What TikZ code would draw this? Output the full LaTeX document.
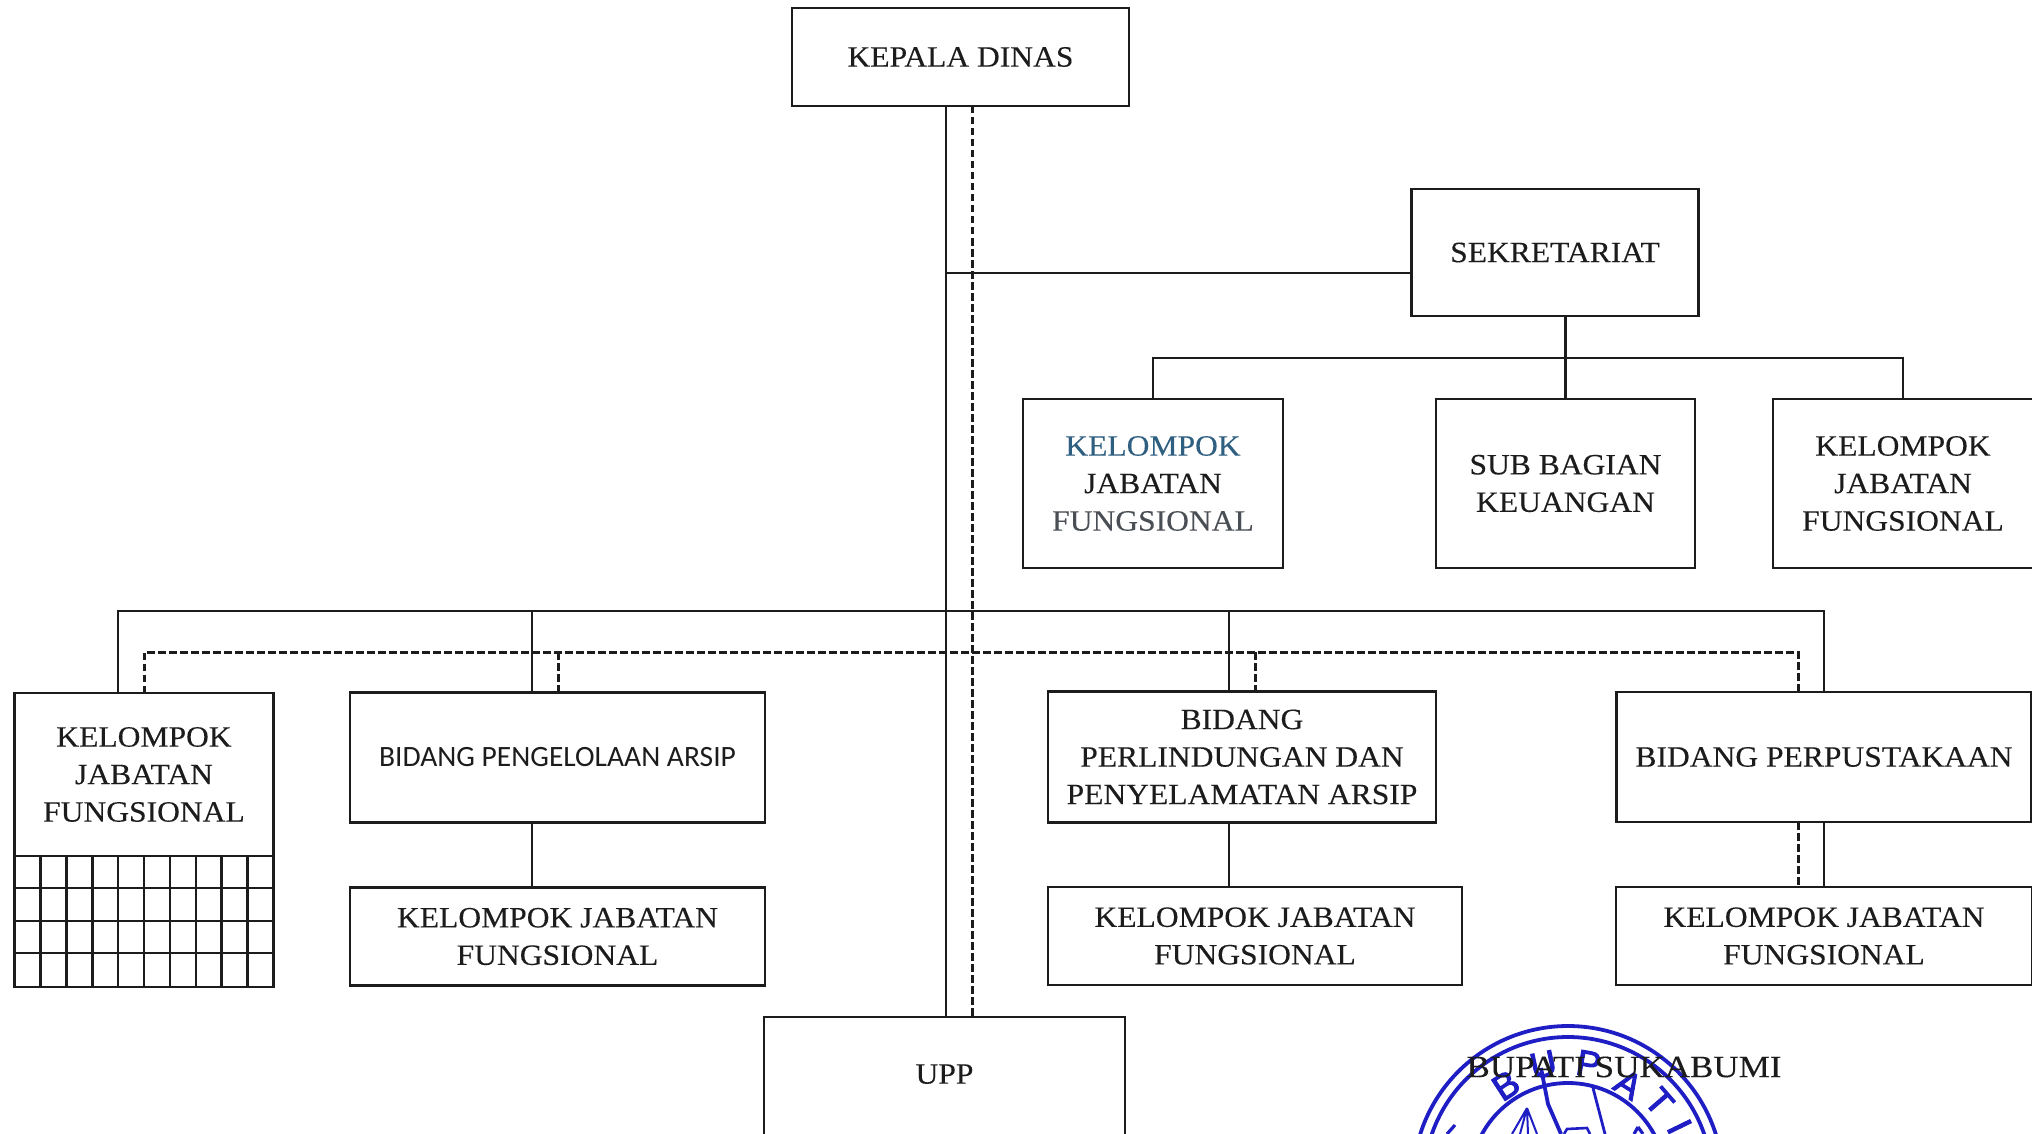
\documentclass[tikz,border=0pt]{standalone}
\usepackage{fontspec}
\usetikzlibrary{calc}
\setmainfont[FakeStretch=1.07,FakeBold=0.25]{Liberation Serif}
\newfontfamily\widefont[FakeStretch=1.13,FakeBold=0.25]{Liberation Serif}
\newfontfamily\calibrish{Carlito}
\newfontfamily\stampfont[FakeBold=3]{Liberation Sans}
\definecolor{ink}{HTML}{1C1C1C}
\definecolor{stamp}{HTML}{1E1EC4}
\tikzset{
  x=1pt,y=-1pt,
  orgbox/.style={draw=ink,line width=2.8pt,rectangle,inner sep=0pt,outer sep=0pt,align=center,text=ink,
    font=\fontsize{29.5}{37.5}\selectfont},
  conn/.style={draw=ink,line width=2.7pt},
  dashconn/.style={draw=ink,line width=3pt,dash pattern=on 7.5pt off 3.5pt},
  gridline/.style={draw=ink,line width=2.6pt},
  stampring/.style={draw=stamp,line width=3.8pt},
  stampletter/.style={text=stamp,inner sep=0pt,font=\stampfont\fontsize{36}{36}\selectfont},
}
\begin{document}
\begin{tikzpicture}
\useasboundingbox (0,0) rectangle (2032,1134);
% stamp
\clip (0,0) rectangle (2032,1134);
\coordinate (stampc) at (1568,1181);
\draw[stampring] (stampc) circle (155);
\draw[stampring] (stampc) circle (144);
\draw[stampring] (stampc) circle (98);
\foreach \ch/\ang/\rad in {B/-33/114,U/-12/119,P/10/119,A/32/114,T/49/121,I/64/124}{
  \node[stampletter,rotate=-\ang] at ($(stampc)+({\rad*sin(\ang)},{-\rad*cos(\ang)})$) {\ch};
}
\draw[stamp,line width=3.8pt] (1541,1068) -- (1548,1104) -- (1561,1134);
\draw[stamp,line width=2.8pt] (1593,1088) -- (1605,1134);
\draw[stamp,line width=2pt] (1527,1108) -- (1512,1134) (1527,1108) -- (1520,1134) (1527,1108) -- (1528,1134) (1527,1108) -- (1537,1134);
\draw[stamp,line width=2.6pt] (1564,1134) -- (1567,1129) -- (1587,1128) -- (1590,1134);
\draw[stamp,line width=3.2pt] (1447,1134) -- (1455,1125);
\draw[stamp,line width=3.2pt] (1638,1127) -- (1634,1134) (1638,1127) -- (1643,1134);
% boxes
\node[orgbox,minimum width=337,minimum height=98] (kepala) at (960.5,57) {KEPALA DINAS};
\node[orgbox,minimum width=287,minimum height=127] (sekre) at (1555,252.5) {SEKRETARIAT};
\node[orgbox,minimum width=260,minimum height=169] (kfa) at (1153,483.5) {{\color[HTML]{2F5F80}KELOMPOK}\\JABATAN\\{\color[HTML]{4A4F55}FUNGSIONAL}};
\node[orgbox,minimum width=259,minimum height=169] (subbag) at (1565.5,483.5) {SUB BAGIAN\\KEUANGAN};
\node[orgbox,minimum width=260,minimum height=169] (kfc) at (1903,483.5) {KELOMPOK\\JABATAN\\FUNGSIONAL};
\node[orgbox,minimum width=259,minimum height=163] (kfl) at (144,774.5) {KELOMPOK\\JABATAN\\FUNGSIONAL};
\node[orgbox,minimum width=259,minimum height=131] (grid) at (144,921.5) {};
\foreach \k in {1,...,9}{\draw[gridline] ({14.5+25.9*\k},856) -- ({14.5+25.9*\k},987);}
\foreach \gy in {888,921,953}{\draw[gridline] (14.5,\gy) -- (273.5,\gy);}
\node[orgbox,minimum width=415,minimum height=130,font=\calibrish\fontsize{29.5}{34}\selectfont] (arsip) at (557.5,757.5) {BIDANG PENGELOLAAN ARSIP};
\node[orgbox,minimum width=415,minimum height=98] (kfarsip) at (557.5,936.5) {KELOMPOK JABATAN\\FUNGSIONAL};
\node[orgbox,minimum width=388,minimum height=131] (perl) at (1242,757) {BIDANG\\PERLINDUNGAN DAN\\PENYELAMATAN ARSIP};
\node[orgbox,minimum width=414,minimum height=98] (kfperl) at (1255,936) {KELOMPOK JABATAN\\FUNGSIONAL};
\node[orgbox,minimum width=415,minimum height=130] (perp) at (1824,757) {BIDANG PERPUSTAKAAN};
\node[orgbox,minimum width=416,minimum height=98] (kfperp) at (1824,936) {KELOMPOK JABATAN\\FUNGSIONAL};
\node[orgbox,minimum width=361,minimum height=120,text depth=6pt] (upp) at (944.5,1077) {UPP};
\node[text=ink,inner sep=0pt,font=\widefont\fontsize{31}{37.5}\selectfont] (bupati) at (1624,1067) {BUPATI SUKABUMI};
% reference verticals
\coordinate (sm) at (946,0);
\coordinate (dm) at (972,0);
\coordinate (trunk) at (946,611);
\coordinate (dtrunk) at (972,652);
\coordinate (sekreY) at (0,273);
\coordinate (branchY) at (0,358);
\coordinate (sa) at (532,0);
\coordinate (da) at (558,0);
\coordinate (sl) at (118,0);
\coordinate (dl) at (144,0);
\coordinate (sp) at (1229,0);
\coordinate (dp) at (1255,0);
\coordinate (sq) at (1824,0);
\coordinate (dq) at (1798,0);
% connectors
\draw[conn] (sm |- kepala.south) -- (sm |- upp.north);
\draw[dashconn] (dm |- kepala.south) -- (dm |- upp.north);
\draw[conn] (sm |- sekreY) -- (sekre.west |- sekreY);
\draw[conn] (subbag.north) -- (subbag.north |- sekre.south);
\draw[conn] (kfa.north) -- (kfa.north |- branchY) -- (kfc.north |- branchY) -- (kfc.north);
\draw[conn] (sl |- kfl.north) -- (sl |- trunk) -- (sq |- trunk) -- (sq |- perp.north);
\draw[conn] (sa |- trunk) -- (sa |- arsip.north);
\draw[conn] (sp |- trunk) -- (sp |- perl.north);
\draw[dashconn] (dl |- kfl.north) -- (dl |- dtrunk) -- (dq |- dtrunk) -- (dq |- perp.north);
\draw[dashconn] (da |- dtrunk) -- (da |- arsip.north);
\draw[dashconn] (dp |- dtrunk) -- (dp |- perl.north);
\draw[conn] (sa |- arsip.south) -- (sa |- kfarsip.north);
\draw[conn] (sp |- perl.south) -- (sp |- kfperl.north);
\draw[conn] (sq |- perp.south) -- (sq |- kfperp.north);
\draw[dashconn] (dq |- perp.south) -- (dq |- kfperp.north);
\end{tikzpicture}
\end{document}
